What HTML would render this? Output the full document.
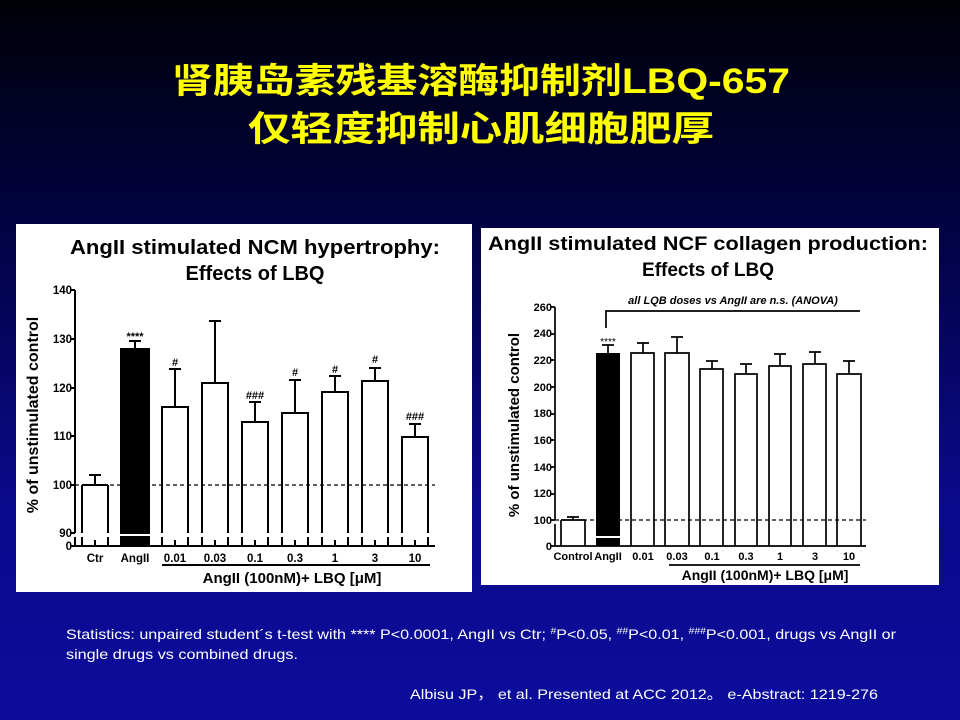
<!DOCTYPE html>
<html><head><meta charset="utf-8"><style>
html,body{margin:0;padding:0;width:960px;height:720px;overflow:hidden}
body{background:linear-gradient(to bottom,#000008 0%,#03034a 35%,#0a0a8c 70%,#0c0c9c 100%)}
svg{display:block}
</style></head><body>
<svg width="960" height="720" viewBox="0 0 960 720" xmlns="http://www.w3.org/2000/svg" font-family="Liberation Sans, sans-serif">
<g fill="#ffff00" font-family="Liberation Sans, Noto Sans CJK SC, sans-serif" font-weight="bold" font-size="35">
<text x="172" y="93" textLength="618" lengthAdjust="spacingAndGlyphs">肾胰岛素残基溶酶抑制剂LBQ-657</text>
<text x="248" y="141" textLength="466" lengthAdjust="spacingAndGlyphs">仅轻度抑制心肌细胞肥厚</text>
</g>
<!-- left panel -->
<rect x="16" y="224" width="456" height="368" fill="#fff"/>
<g font-weight="bold" text-anchor="middle">
<text x="255" y="254" font-size="20" textLength="370" lengthAdjust="spacingAndGlyphs">AngII stimulated NCM hypertrophy:</text>
<text x="255" y="280" font-size="20">Effects of LBQ</text>
<text transform="translate(38,415) rotate(-90)" font-size="16">% of unstimulated control</text>
<g font-size="11.5" text-anchor="end">
<text x="72" y="294">140</text><text x="72" y="343">130</text><text x="72" y="392">120</text><text x="72" y="440">110</text><text x="72" y="489">100</text><text x="72" y="537">90</text><text x="72" y="550">0</text>
</g>
<g font-size="11.5">
<text x="95" y="562">Ctr</text><text x="135" y="562">AngII</text><text x="175" y="562">0.01</text><text x="215" y="562">0.03</text><text x="255" y="562">0.1</text><text x="295" y="562">0.3</text><text x="335" y="562">1</text><text x="375" y="562">3</text><text x="415" y="562">10</text>
</g>
<text x="292" y="583" font-size="15">AngII (100nM)+ LBQ [μM]</text>
</g>
<g stroke="#000" stroke-width="2" fill="none">
<line x1="75" y1="290" x2="75" y2="533"/><line x1="75" y1="537" x2="75" y2="546"/>
<line x1="75" y1="546" x2="435" y2="546"/>
<path d="M71 290H75M71 339H75M71 388H75M71 436H75M71 485H75M71 533H75M71 546H75"/>
<line x1="162" y1="565" x2="430" y2="565"/>
<line x1="75" y1="485" x2="435" y2="485" stroke-dasharray="4,3" stroke-width="1.3"/>
</g>
<g stroke="#000" stroke-width="2" fill="#fff">
<path d="M82 485V533M108 485V533M82 485H108M95 485V475M89 475H101" fill="none"/>
<rect x="121" y="349" width="28" height="184" fill="#000"/><rect x="121" y="537" width="28" height="9" fill="#000"/>
<path d="M135 349V341M129 341H141" fill="none"/>
<path d="M162 533V407H188V533M175 407V369M169 369H181" fill="none"/>
<path d="M202 533V383H228V533M215 383V321M209 321H221" fill="none"/>
<path d="M242 533V422H268V533M255 422V402M249 402H261" fill="none"/>
<path d="M282 533V413H308V533M295 413V380M289 380H301" fill="none"/>
<path d="M322 533V392H348V533M335 392V376M329 376H341" fill="none"/>
<path d="M362 533V381H388V533M375 381V368M369 368H381" fill="none"/>
<path d="M402 533V437H428V533M415 437V424M409 424H421" fill="none"/>
<path d="M82 537V546M108 537V546M162 537V546M188 537V546M202 537V546M228 537V546M242 537V546M268 537V546M282 537V546M308 537V546M322 537V546M348 537V546M362 537V546M388 537V546M402 537V546M428 537V546M95 540V546M175 540V546M215 540V546M255 540V546M295 540V546M335 540V546M375 540V546M415 540V546" fill="none"/>
</g>
<g font-size="11" text-anchor="middle" font-weight="bold">
<text x="135" y="340">****</text><text x="175" y="366">#</text><text x="255" y="399">###</text><text x="295" y="376">#</text><text x="335" y="373">#</text><text x="375" y="363">#</text><text x="415" y="420">###</text>
</g>
<!-- right panel -->
<rect x="481" y="228" width="458" height="357" fill="#fff"/>
<g font-weight="bold" text-anchor="middle">
<text x="708" y="250" font-size="19" textLength="440" lengthAdjust="spacingAndGlyphs">AngII stimulated NCF collagen production:</text>
<text x="708" y="276" font-size="19">Effects of LBQ</text>
<text transform="translate(519,425) rotate(-90)" font-size="15">% of unstimulated control</text>
<g font-size="11" text-anchor="end">
<text x="552" y="311">260</text><text x="552" y="337">240</text><text x="552" y="364">220</text><text x="552" y="391">200</text><text x="552" y="417">180</text><text x="552" y="444">160</text><text x="552" y="471">140</text><text x="552" y="497">120</text><text x="552" y="524">100</text><text x="552" y="550">0</text>
</g>
<g font-size="11">
<text x="573" y="560">Control</text><text x="608" y="560">AngII</text><text x="643" y="560">0.01</text><text x="677" y="560">0.03</text><text x="712" y="560">0.1</text><text x="746" y="560">0.3</text><text x="780" y="560">1</text><text x="815" y="560">3</text><text x="849" y="560">10</text>
</g>
<text x="765" y="580" font-size="14">AngII (100nM)+ LBQ [μM]</text>
<text x="733" y="304" font-size="11" font-style="italic">all LQB doses vs AngII are n.s.  (ANOVA)</text>
</g>
<g stroke="#000" stroke-width="1.7" fill="none">
<line x1="555" y1="307" x2="555" y2="520"/><line x1="555" y1="524" x2="555" y2="546"/>
<line x1="555" y1="546" x2="866" y2="546"/>
<path d="M551 307H555M551 334H555M551 360H555M551 387H555M551 414H555M551 440H555M551 467H555M551 494H555M551 520H555M551 546H555"/>
<line x1="669" y1="565" x2="860" y2="565"/>
<path d="M606 328V311H860"/>
<line x1="555" y1="520" x2="866" y2="520" stroke-dasharray="4,3" stroke-width="1.2"/>
<path d="M561 520H585M573 520V517M567 517H579"/>
<path d="M631 536V353H654V536M643 353V343M637 343H649"/>
<path d="M665 536V353H689V536M677 353V337M671 337H683"/>
<path d="M700 536V369H723V536M712 369V361M706 361H718"/>
<path d="M735 536V374H757V536M746 374V364M740 364H752"/>
<path d="M769 536V366H791V536M780 366V354M774 354H786"/>
<path d="M803 536V364H826V536M815 364V352M809 352H821"/>
<path d="M837 536V374H861V536M849 374V361M843 361H855"/>
<path d="M561 520V546M585 520V546M631 536V546M654 536V546M665 536V546M689 536V546M700 536V546M723 536V546M735 536V546M757 536V546M769 536V546M791 536V546M803 536V546M826 536V546M837 536V546M861 536V546"/>
<path d="M608 353V345M602 345H614"/>
</g>
<rect x="596" y="353" width="24" height="183" fill="#000"/><rect x="596" y="538" width="24" height="8" fill="#000"/>
<text x="608" y="345" font-size="10" text-anchor="middle">****</text>
<!-- footer -->
<g fill="#fff" font-family="Liberation Sans Narrow, Liberation Sans, sans-serif" font-size="14">
<text x="66" y="639" textLength="830" lengthAdjust="spacingAndGlyphs">Statistics: unpaired student´s t-test with **** P&lt;0.0001, AngII vs Ctr; <tspan font-size="9" dy="-5">#</tspan><tspan dy="5">P&lt;0.05, </tspan><tspan font-size="9" dy="-5">##</tspan><tspan dy="5">P&lt;0.01, </tspan><tspan font-size="9" dy="-5">###</tspan><tspan dy="5">P&lt;0.001, drugs vs AngII or</tspan></text>
<text x="66" y="659" textLength="232" lengthAdjust="spacingAndGlyphs">single drugs  vs combined drugs.</text>
<text x="410" y="699" textLength="468" lengthAdjust="spacingAndGlyphs" font-family="Liberation Sans Narrow, Liberation Sans, Noto Sans CJK SC, sans-serif">Albisu JP，  et al. Presented at ACC 2012。 e-Abstract: 1219-276</text>
</g>
</svg>
</body></html>
